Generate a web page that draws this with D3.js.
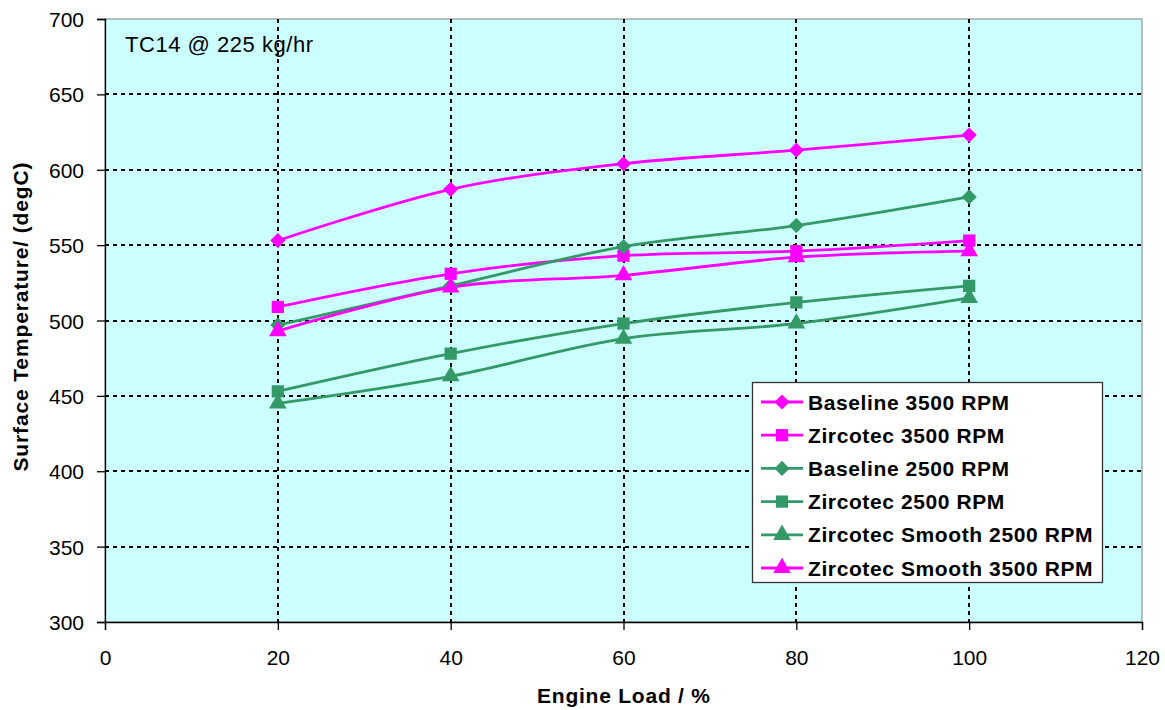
<!DOCTYPE html>
<html>
<head>
<meta charset="utf-8">
<script src="https://cdn.jsdelivr.net/npm/d3@7"></script>
<style>
  html, body { margin: 0; padding: 0; background: #ffffff; }
  svg { display: block; font-family: "Liberation Sans", Arial, sans-serif; }
</style>
</head>
<body>
<svg id="chart" width="1165" height="710"></svg>
<script>
// ---- Data ----
const engineLoad = [20, 40, 60, 80, 100];
const baseline3500 = [553, 587, 604, 613, 623];
const zircotec3500 = [509, 531, 543, 546, 553];
const baseline2500 = [497, 523, 549, 563, 582];
const zircotec2500 = [453, 478, 498, 512, 523];
const smooth2500 = [445, 463, 488, 498, 515];
const smooth3500 = [493, 522, 530, 542, 546];
const seriesNames = ["Baseline 3500 RPM", "Zircotec 3500 RPM", "Baseline 2500 RPM",
                     "Zircotec 2500 RPM", "Zircotec Smooth 2500 RPM", "Zircotec Smooth 3500 RPM"];
const xTicks = [0, 20, 40, 60, 80, 100, 120];
const yTicks = [300, 350, 400, 450, 500, 550, 600, 650, 700];
const annotation = "TC14 @ 225 kg/hr";
const xTitle = "Engine Load / %";
const yTitle = "Surface Temperature/ (degC)";

const MAGENTA = "#FF00FF", GREEN = "#339966";
const series = [
  { name: seriesNames[0], values: baseline3500, color: MAGENTA, shape: "diamond" },
  { name: seriesNames[1], values: zircotec3500, color: MAGENTA, shape: "square" },
  { name: seriesNames[2], values: baseline2500, color: GREEN, shape: "diamond" },
  { name: seriesNames[3], values: zircotec2500, color: GREEN, shape: "square" },
  { name: seriesNames[4], values: smooth2500, color: GREEN, shape: "triangle" },
  { name: seriesNames[5], values: smooth3500, color: MAGENTA, shape: "triangle" }
];
function markerPath(shape) {
  if (shape === "diamond") return d3.symbol().type(d3.symbolSquare).size(115)();
  if (shape === "square") return d3.symbol().type(d3.symbolSquare).size(150)();
  return d3.symbol().type(d3.symbolTriangle).size(135)();
}
function markerRot(shape) { return shape === "diamond" ? " rotate(45)" : ""; }

// ---- Layout ----
const L = 105, R = 1142, T = 19, B = 622;
const svg = d3.select("#chart");
const x = d3.scaleLinear().domain([0, 120]).range([L, R]);
const y = d3.scaleLinear().domain([300, 700]).range([B, T]);

// plot background
svg.append("rect").attr("x", L).attr("y", T).attr("width", R - L).attr("height", B - T)
  .attr("fill", "#CCFFFF").attr("stroke", "#808080").attr("stroke-width", 1);

// gridlines
const grid = svg.append("g").attr("stroke", "#000").attr("stroke-width", 1.3)
  .attr("stroke-dasharray", "4,4").attr("shape-rendering", "crispEdges");
xTicks.filter(t => t > 0 && t < 120).forEach(t => {
  grid.append("line").attr("x1", Math.round(x(t))).attr("x2", Math.round(x(t)))
    .attr("y1", T).attr("y2", B);
});
yTicks.filter(t => t > 300 && t < 700).forEach(t => {
  grid.append("line").attr("x1", L).attr("x2", R)
    .attr("y1", Math.round(y(t))).attr("y2", Math.round(y(t)));
});

// axes
const xAxis = svg.append("g").attr("transform", `translate(0,${B})`)
  .call(d3.axisBottom(x).tickValues(xTicks).tickSize(8).tickPadding(20).tickFormat(d3.format("d")));
const yAxis = svg.append("g").attr("transform", `translate(${L},0)`)
  .call(d3.axisLeft(y).tickValues(yTicks).tickSize(8).tickPadding(13).tickFormat(d3.format("d")));
[xAxis, yAxis].forEach(g => {
  g.select(".domain").attr("stroke", "#000").attr("stroke-width", 1.3);
  g.selectAll(".tick line").attr("stroke", "#000").attr("stroke-width", 1.3);
  g.selectAll(".tick text").attr("font-size", 21).attr("fill", "#000")
    .attr("font-family", "'Liberation Sans', Arial, sans-serif");
});
yAxis.selectAll(".tick text").attr("dy", "0.36em");

// lines
const line = d3.line().x((d, i) => x(engineLoad[i])).y(d => y(d)).curve(d3.curveCardinal.tension(0));
const plot = svg.append("g");
series.forEach(s => {
  plot.append("path").datum(s.values).attr("d", line)
    .attr("fill", "none").attr("stroke", s.color).attr("stroke-width", 2.8);
});
series.forEach(s => {
  plot.selectAll(null).data(s.values).enter().append("path")
    .attr("d", markerPath(s.shape))
    .attr("transform", (d, i) => `translate(${x(engineLoad[i])},${y(d)})${markerRot(s.shape)}`)
    .attr("fill", s.color);
});

// annotation
svg.append("text").attr("x", 125).attr("y", 52).attr("font-size", 22)
  .attr("textLength", 188).attr("lengthAdjust", "spacing").text(annotation);

// axis titles
svg.append("text").attr("x", 623.5).attr("y", 703).attr("text-anchor", "middle")
  .attr("font-size", 21).attr("font-weight", "bold")
  .attr("textLength", 173).attr("lengthAdjust", "spacing").text(xTitle);
svg.append("text").attr("transform", "translate(28,317) rotate(-90)").attr("text-anchor", "middle")
  .attr("font-size", 21).attr("font-weight", "bold")
  .attr("textLength", 309).attr("lengthAdjust", "spacing").text(yTitle);

// legend
const lg = svg.append("g");
lg.append("rect").attr("x", 752.5).attr("y", 382.5).attr("width", 350).attr("height", 200)
  .attr("fill", "#fff").attr("stroke", "#333").attr("stroke-width", 1.3);
const legendY0 = 402, legendStep = 33.2;
series.forEach((s, i) => {
  const cy = legendY0 + i * legendStep;
  lg.append("line").attr("x1", 761).attr("x2", 803).attr("y1", cy).attr("y2", cy)
    .attr("stroke", s.color).attr("stroke-width", 2.8);
  lg.append("path").attr("d", markerPath(s.shape))
    .attr("transform", `translate(782,${cy})${markerRot(s.shape)}`).attr("fill", s.color);
  lg.append("text").attr("x", 808).attr("y", cy + 7.5).attr("font-size", 21)
    .attr("font-weight", "bold").style("letter-spacing", "0.6px").text(s.name);
});
</script>
</body>
</html>
